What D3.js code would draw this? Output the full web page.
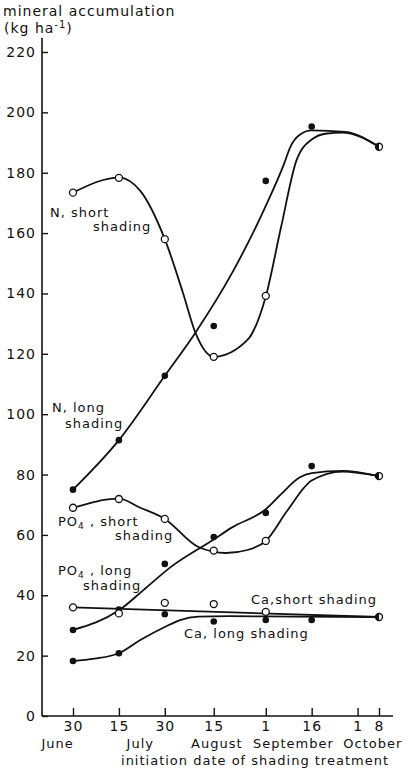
<!DOCTYPE html>
<html>
<head>
<meta charset="utf-8">
<script src="https://cdn.jsdelivr.net/npm/d3@7"></script>
<style>
  html, body { margin: 0; padding: 0; background: #fff; }
  svg { display: block; }
  text { font-family: "DejaVu Sans", sans-serif; fill: #111; letter-spacing: 1px; }
</style>
</head>
<body>
<svg id="chart" width="412" height="770"></svg>
<script>
// ---- axis categories -------------------------------------------------------
const tickDates  = ["06-30", "07-15", "07-30", "08-15", "09-01", "09-16", "10-01", "10-08"];
const tickLabels = ["30", "15", "30", "15", "1", "16", "1", "8"];
const monthNames   = ["June", "July", "August", "September", "October"];
const monthAnchors = ["06-25", "07-22", "08-16", "09-10", "10-06"];
const yTicks = [0, 20, 40, 60, 80, 100, 120, 140, 160, 180, 200, 220];

// ---- measured accumulation (kg ha-1) by shading start date -----------------
const nShortDates   = ["06-30", "07-15", "07-30", "08-15", "09-01", "10-08"];
const nShortValues  = [173.4, 178.3, 158, 119, 139.2, 188.6];
const nLongDates    = ["06-30", "07-15", "07-30", "08-15", "09-01", "09-16", "10-08"];
const nLongValues   = [75, 91.4, 112.7, 129.2, 177.3, 195.3, 188.6];
const poShortDates  = ["06-30", "07-15", "07-30", "08-15", "09-01", "10-08"];
const poShortValues = [69, 71.9, 65.3, 54.8, 58, 79.5];
const poLongDates   = ["06-30", "07-15", "07-30", "08-15", "09-01", "09-16", "10-08"];
const poLongValues  = [28.5, 35.3, 50.4, 59.3, 67.3, 82.8, 79.5];
const caShortDates  = ["06-30", "07-15", "07-30", "08-15", "09-01", "10-08"];
const caShortValues = [36, 34, 37.5, 37.1, 34.5, 32.8];
const caLongDates   = ["06-30", "07-15", "07-30", "08-15", "09-01", "09-16", "10-08"];
const caLongValues  = [18.2, 20.8, 33.7, 31.3, 31.8, 31.8, 32.8];

// ---- hand-fitted trend curves ---------------------------------------------
const nShortFitDates   = ["06-30", "07-15", "07-22", "07-30", "08-05", "08-09", "08-15", "08-26", "09-01", "09-06", "09-11", "09-16", "09-21", "09-26", "10-08"];
const nShortFitValues  = [173.4, 178.4, 174, 158, 140, 127, 119, 124.6, 139, 162, 184, 191, 193, 193.3, 188.6];
const nLongFitDates    = ["06-30", "07-15", "07-30", "08-09", "08-21", "09-01", "09-07", "09-09", "09-12", "09-16", "09-27", "10-08"];
const nLongFitValues   = [75, 91.4, 112.7, 127, 146.8, 169, 183, 188.5, 192.5, 194, 193.5, 188.6];
const poShortFitDates  = ["06-30", "07-15", "07-22", "07-30", "08-10", "08-19", "08-26", "09-01", "09-08", "09-16", "09-26", "10-08"];
const poShortFitValues = [69, 72, 69, 65.3, 56, 54, 55, 58, 68, 78, 81, 79.5];
const poLongFitDates   = ["06-30", "07-15", "07-23", "08-01", "08-15", "08-21", "09-01", "09-06", "09-12", "09-16", "09-26", "10-08"];
const poLongFitValues  = [28.5, 35, 41.7, 49.4, 58.5, 62.5, 68.5, 73.5, 79, 80.5, 81.2, 79.5];
const caShortFitDates  = ["06-30", "10-08"];
const caShortFitValues = [36, 32.8];
const caLongFitDates   = ["06-30", "07-07", "07-15", "07-22", "07-30", "08-04", "08-10", "08-20", "09-10", "10-08"];
const caLongFitValues  = [18.2, 19, 20.8, 25.2, 29.5, 31.8, 32.9, 33.1, 32.9, 32.8];

const parse = d3.timeParse("%m-%d");
const svg = d3.select("#chart");
const ink = "#111";

const x = d3.scaleTime().domain([parse("06-30"), parse("10-08")]).range([73, 379]);
const y = d3.scaleLinear().domain([0, 220]).range([716, 52]);

// ---- axes -----------------------------------------------------------------
const xAxis = svg.append("g")
  .attr("transform", `translate(0,${y(0)})`)
  .call(d3.axisBottom(x)
    .tickValues(tickDates.map(parse))
    .tickFormat((d, i) => tickLabels[i])
    .tickSize(-8).tickPadding(5));
xAxis.select(".domain").remove();
xAxis.selectAll(".tick line").attr("stroke", ink).attr("stroke-width", 1.4);
xAxis.selectAll(".tick text").attr("font-size", 14).attr("font-family", null).attr("fill", ink);
svg.append("line")
  .attr("x1", 42).attr("x2", 393).attr("y1", y(0)).attr("y2", y(0))
  .attr("stroke", ink).attr("stroke-width", 1.6);

const yAxis = svg.append("g")
  .attr("transform", "translate(42,0)")
  .call(d3.axisLeft(y).tickValues(yTicks).tickSize(-6).tickPadding(6));
yAxis.select(".domain").remove();
yAxis.selectAll(".tick line").attr("stroke", ink).attr("stroke-width", 1.4);
yAxis.selectAll(".tick text").attr("font-size", 14).attr("font-family", null).attr("fill", ink);
svg.append("line")
  .attr("x1", 42).attr("x2", 42).attr("y1", y(0)).attr("y2", 38)
  .attr("stroke", ink).attr("stroke-width", 1.6);

// month names under the day numbers
svg.append("g").selectAll("text")
  .data(monthNames)
  .join("text")
  .attr("x", (d, i) => x(parse(monthAnchors[i])))
  .attr("y", 748)
  .attr("text-anchor", "middle")
  .attr("font-size", 13)
  .text(d => d);

svg.append("text")
  .attr("x", 255).attr("y", 765)
  .attr("text-anchor", "middle")
  .attr("font-size", 13)
  .text("initiation date of shading treatment");

// y-axis title
svg.append("text").attr("x", 3).attr("y", 16).attr("font-size", 14).text("mineral accumulation");
const unit = svg.append("text").attr("x", 4).attr("y", 33).attr("font-size", 14);
unit.append("tspan").text("(kg ha");
unit.append("tspan").attr("font-size", 10).attr("dy", -5).text("-1");
unit.append("tspan").attr("dy", 5).text(")");

// ---- fitted curves ----------------------------------------------------------
const line = d3.line()
  .x(d => x(d[0]))
  .y(d => y(d[1]))
  .curve(d3.curveMonotoneX);

const fits = [
  [nShortFitDates, nShortFitValues],
  [nLongFitDates, nLongFitValues],
  [poShortFitDates, poShortFitValues],
  [poLongFitDates, poLongFitValues],
  [caShortFitDates, caShortFitValues],
  [caLongFitDates, caLongFitValues]
];
svg.append("g").selectAll("path")
  .data(fits)
  .join("path")
  .attr("d", f => line(f[0].map((d, i) => [parse(d), f[1][i]])))
  .attr("fill", "none")
  .attr("stroke", ink)
  .attr("stroke-width", 1.8);

// ---- measured points --------------------------------------------------------
// short shading = open circle, long shading = filled dot,
// dates where both treatments coincide = half-filled circle
const pairs = [
  [nShortDates, nShortValues, nLongDates, nLongValues],
  [poShortDates, poShortValues, poLongDates, poLongValues],
  [caShortDates, caShortValues, caLongDates, caLongValues]
];
const pts = [];
pairs.forEach(([sd, sv, ld, lv]) => {
  const shared = new Set(sd.filter((d, i) => ld.indexOf(d) >= 0 && lv[ld.indexOf(d)] === sv[i]));
  sd.forEach((d, i) => pts.push({ date: d, value: sv[i], kind: shared.has(d) ? "both" : "short" }));
  ld.forEach((d, i) => { if (!shared.has(d)) pts.push({ date: d, value: lv[i], kind: "long" }); });
});

const ptG = svg.append("g");
pts.filter(p => p.kind === "long").forEach(p => {
  ptG.append("circle")
    .attr("cx", x(parse(p.date))).attr("cy", y(p.value))
    .attr("r", 3.3).attr("fill", ink);
});
pts.filter(p => p.kind !== "long").forEach(p => {
  const cx = x(parse(p.date)), cy = y(p.value), r = 3.5;
  ptG.append("circle")
    .attr("cx", cx).attr("cy", cy).attr("r", r)
    .attr("fill", "#fff").attr("stroke", ink).attr("stroke-width", 1.3);
  if (p.kind === "both") {
    ptG.append("path")
      .attr("d", `M${cx},${cy - r}A${r},${r} 0 0 0 ${cx},${cy + r}Z`)
      .attr("fill", ink);
  }
});

// ---- curve labels -----------------------------------------------------------
// parts: plain strings, or {subscript: "..."} for a lowered small figure
function label(xPos, yPos, parts) {
  const t = svg.append("text").attr("x", xPos).attr("y", yPos).attr("font-size", 13);
  let lowered = false;
  parts.forEach(p => {
    if (typeof p === "string") {
      t.append("tspan").attr("dy", lowered ? -2.5 : 0).text(p);
      lowered = false;
    } else {
      t.append("tspan").attr("font-size", 9).attr("dy", 2.5).text(p.subscript);
      lowered = true;
    }
  });
}
label(50, 217, ["N, short"]);
label(93, 231, ["shading"]);
label(52, 412, ["N, long"]);
label(65, 428, ["shading"]);
label(58, 526, ["PO", { subscript: "4" }, " , short"]);
label(115, 540, ["shading"]);
label(58, 575, ["PO", { subscript: "4" }, " , long"]);
label(83, 590, ["shading"]);
label(251, 604, ["Ca,short shading"]);
label(184, 638, ["Ca, long shading"]);
</script>
</body>
</html>
